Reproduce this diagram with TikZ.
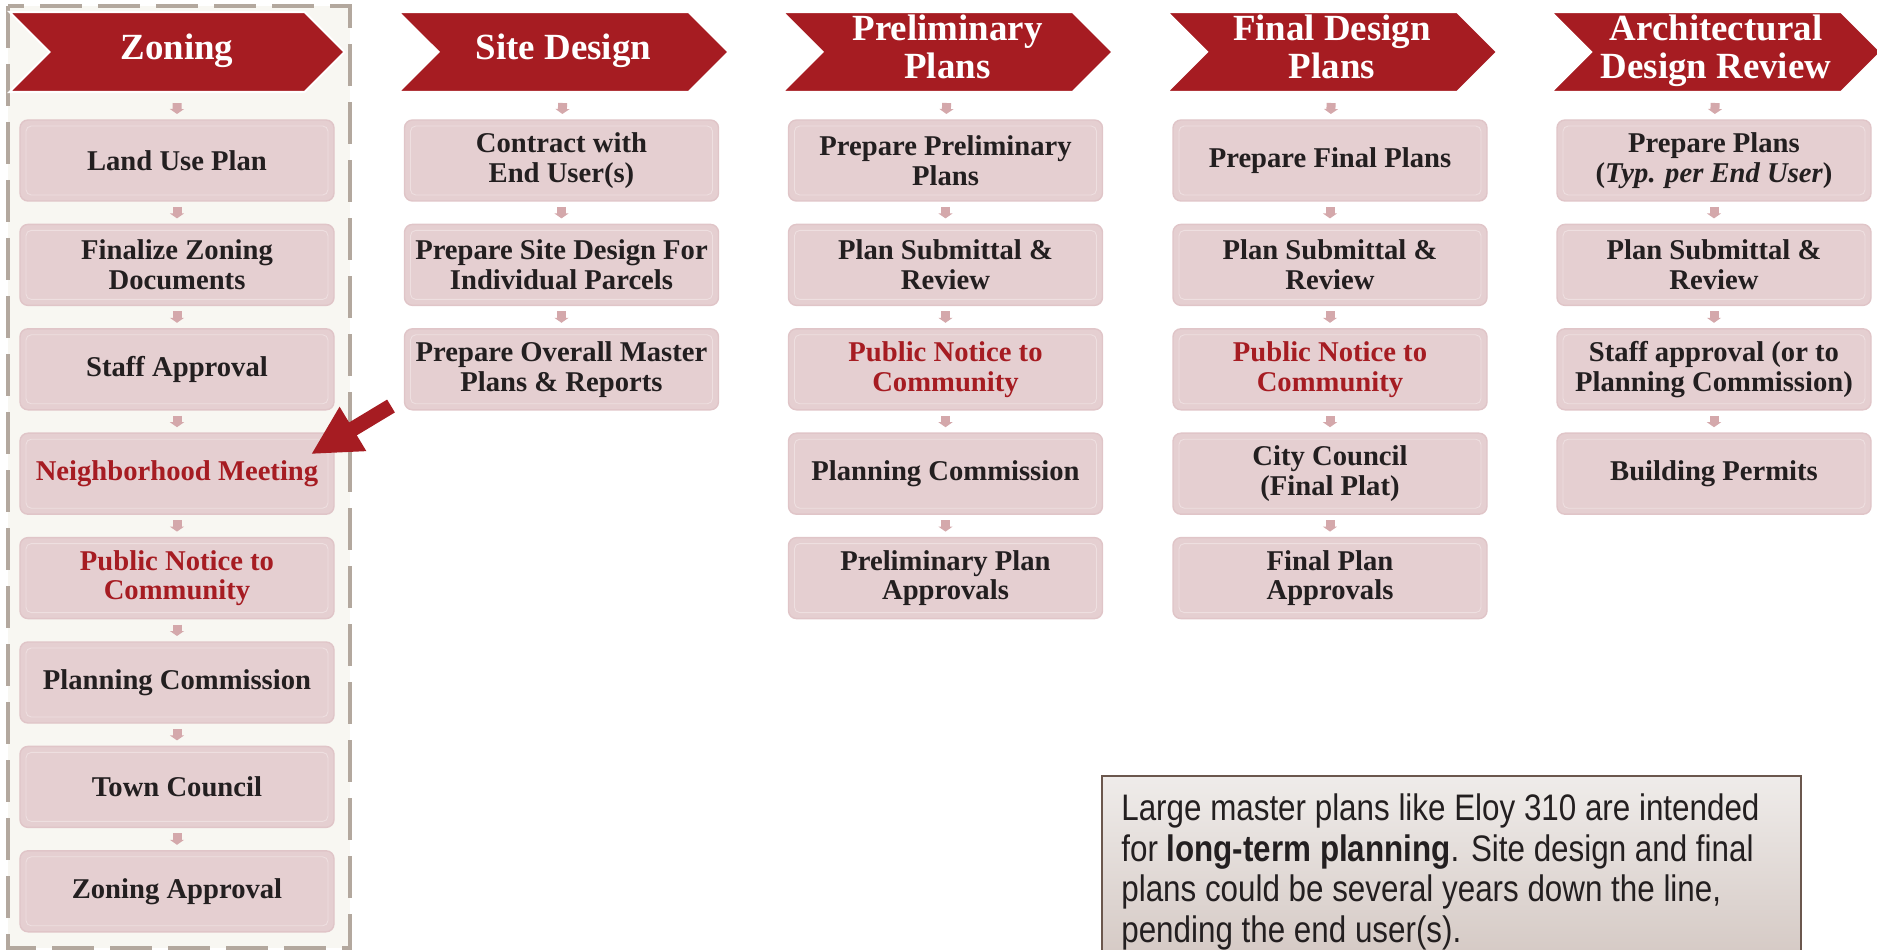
\documentclass[tikz,border=0pt]{standalone}
\usepackage{fontspec}
\setmainfont{Liberation Serif}
\newfontfamily\notefont[FakeStretch=0.85]{Liberation Sans}
\usetikzlibrary{shapes.symbols,arrows.meta}

\definecolor{stagered}{HTML}{A61C22}
\definecolor{taskfill}{HTML}{E5CFD1}
\definecolor{taskedge}{HTML}{E0C5C8}
\definecolor{taskline}{HTML}{EEDFE0}
\definecolor{taskink}{HTML}{231F20}
\definecolor{arrowpink}{HTML}{D4A8AB}
\definecolor{framegray}{HTML}{B3A89E}
\definecolor{framefill}{HTML}{F8F7F2}
\definecolor{notetop}{HTML}{EFECEA}
\definecolor{notebottom}{HTML}{D4C8C3}
\definecolor{noteedge}{HTML}{6B574D}

\tikzset{
  stage/.style={signal, signal to=east, signal from=west, signal pointer angle=90,
    fill=stagered, draw=white, line width=1.2pt, minimum width=6.6cm, minimum height=1.6cm,
    inner sep=0pt, outer sep=0pt, text=white, align=center,
    font=\bfseries\fontsize{21}{21.6}\selectfont, execute at end node=\strut},
  task/.style={rectangle, rounded corners=4.5pt, fill=taskfill, draw=taskedge, line width=0.8pt,
    minimum width=6.28cm, minimum height=1.62cm, inner sep=0pt, outer sep=0pt,
    text=taskink, align=center, font=\bfseries\fontsize{16.3}{17}\selectfont,
    path picture={\draw[taskline, line width=0.5pt, rounded corners=3pt]
      ([shift={(0.12cm,-0.12cm)}]path picture bounding box.north west) rectangle
      ([shift={(-0.12cm,0.12cm)}]path picture bounding box.south east);}},
  notice/.style={task, text=stagered},
  flowarrow/.style={draw=arrowpink, line width=0.18cm, -{Triangle[width=0.28cm,length=0.1cm]},
    shorten <=0.12cm, shorten >=0.12cm},
  pointer/.style={draw=stagered, line width=0.3cm, -{Triangle[width=0.96cm,length=0.98cm]}},
}

\begin{document}
\begin{tikzpicture}
    \useasboundingbox (0,0) rectangle (37.54,-19);

    % Zoning frame
    \draw[framegray, fill=framefill, line width=0.08cm, dash pattern=on 0.84cm off 0.32cm]
        (0.16,-0.12) rectangle (7.0,-18.96);

    % Stage headers
    \node[stage, minimum width=6.7cm] (zh) at (3.54,-1.04) {Zoning};
    \node[stage] (sh) at (11.27,-1.04) {Site Design};
    \node[stage] (ph) at (18.95,-1.04) {Preliminary\\Plans};
    \node[stage] (fh) at (26.64,-1.04) {Final Design\\Plans};
    \node[stage] (ah) at (34.32,-1.04) {Architectural\\Design Review};

    % Zoning
    \node[task] (z1) at (3.54,-3.21) {Land Use Plan};
    \node[task] (z2) at (3.54,-5.298) {Finalize Zoning\\Documents};
    \node[task] (z3) at (3.54,-7.386) {Staff Approval};
    \node[notice] (z4) at (3.54,-9.474) {Neighborhood Meeting};
    \node[notice] (z5) at (3.54,-11.562) {Public Notice to\\Community};
    \node[task] (z6) at (3.54,-13.65) {Planning Commission};
    \node[task] (z7) at (3.54,-15.738) {Town Council};
    \node[task] (z8) at (3.54,-17.826) {Zoning Approval};

    % Site design
    \node[task] (s1) at (11.23,-3.21) {Contract with\\End User(s)};
    \node[task] (s2) at (11.23,-5.298) {Prepare Site Design For\\Individual Parcels};
    \node[task] (s3) at (11.23,-7.386) {Prepare Overall Master\\Plans \& Reports};

    % Preliminary plans
    \node[task] (p1) at (18.91,-3.21) {Prepare Preliminary\\Plans};
    \node[task] (p2) at (18.91,-5.298) {Plan Submittal \&\\Review};
    \node[notice] (p3) at (18.91,-7.386) {Public Notice to\\Community};
    \node[task] (p4) at (18.91,-9.474) {Planning Commission};
    \node[task] (p5) at (18.91,-11.562) {Preliminary Plan\\Approvals};

    % Final design plans
    \node[task] (f1) at (26.60,-3.21) {Prepare Final Plans};
    \node[task] (f2) at (26.60,-5.298) {Plan Submittal \&\\Review};
    \node[notice] (f3) at (26.60,-7.386) {Public Notice to\\Community};
    \node[task] (f4) at (26.60,-9.474) {City Council\\(Final Plat)};
    \node[task] (f5) at (26.60,-11.562) {Final Plan\\Approvals};

    % Architectural design review
    \node[task] (a1) at (34.28,-3.21) {Prepare Plans\\(\textit{Typ. per End User})};
    \node[task] (a2) at (34.28,-5.298) {Plan Submittal \&\\Review};
    \node[task] (a3) at (34.28,-7.386) {Staff approval (or to\\Planning Commission)};
    \node[task] (a4) at (34.28,-9.474) {Building Permits};

    % Step arrows
    \foreach \h/\t in {zh/z1, sh/s1, ph/p1, fh/f1, ah/a1}
        \draw[flowarrow, shorten <=0.22cm] (\h) -- (\t);
    \foreach \a/\b in {z1/z2, z2/z3, z3/z4, z4/z5, z5/z6, z6/z7, z7/z8,
                       s1/s2, s2/s3, p1/p2, p2/p3, p3/p4, p4/p5,
                       f1/f2, f2/f3, f3/f4, f4/f5, a1/a2, a2/a3, a3/a4}
        \draw[flowarrow] (\a) -- (\b);

    % Pointer to the meeting
    \coordinate (pointer tail) at (7.82,-8.12);
    \draw[pointer] (pointer tail) -- ([shift={(-0.46,-0.42)}]z4.north east);

    % Note
    \draw[noteedge, line width=0.6pt, top color=notetop, bottom color=notebottom]
        (22.04,-15.52) rectangle (36.02,-19.3);
    \node[anchor=north west, inner sep=0pt, align=left, text=taskink,
          font=\notefont\fontsize{21}{23.3}\selectfont] (note) at (22.42,-15.86)
        {Large master plans like Eloy 310 are intended\\
         for \textbf{long-term planning}. Site design and final\\
         plans could be several years down the line,\\
         pending the end user(s).};

\end{tikzpicture}
\end{document}
